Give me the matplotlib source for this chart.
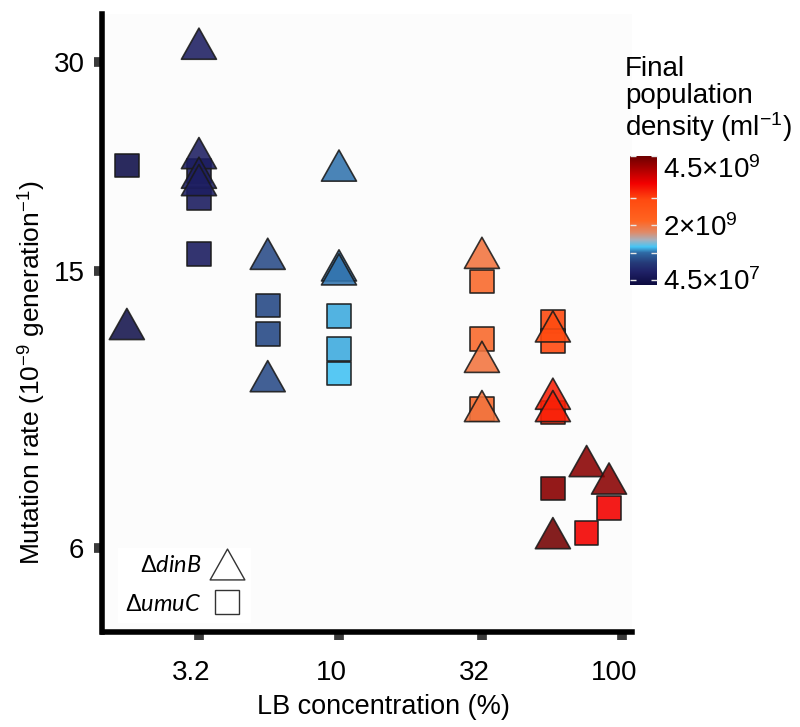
import matplotlib
matplotlib.use("Agg")
import matplotlib.pyplot as plt
import matplotlib.cm as cm
import matplotlib.transforms as mtransforms
from matplotlib.colors import LinearSegmentedColormap, Normalize
from matplotlib.lines import Line2D
from matplotlib.path import Path
from matplotlib.ticker import FixedLocator, NullLocator

plt.rcParams.update({
    "font.family": "Liberation Sans",
    "mathtext.fontset": "custom",
    "mathtext.rm": "Liberation Sans",
    "mathtext.it": "Lato:italic",
})

# dinB (triangles)
dinB_lb = [1.78, 3.2, 3.2, 3.2, 3.2, 5.6, 5.6, 10, 10, 10, 32, 32, 32,
           57, 57, 57, 57, 75, 90]
dinB_rate = [12.6, 31.9, 22.2, 20.8, 20.3, 15.9, 10.6, 21.3, 15.3, 15.1, 15.95, 11.3, 9.6,
             12.5, 10.0, 9.6, 6.3, 8.0, 7.55]
dinB_density = [3e7, 2.5e8, 2.5e8, 2.5e8, 2.5e8, 7.7e8, 7.7e8, 1.04e9, 1.04e9, 1.04e9, 2.0e9, 2.0e9, 2.0e9,
                2.9e9, 3.25e9, 3.25e9, 4.45e9, 4.3e9, 4.3e9]

# umuC (squares)
umuC_lb = [1.78, 3.2, 3.2, 3.2, 5.6, 5.6, 10, 10, 10, 32, 32, 32,
           57, 57, 57, 57, 75, 90]
umuC_rate = [21.3, 20.9, 19.1, 15.9, 13.4, 12.2, 12.95, 11.6, 10.7, 14.5, 12.0, 9.5,
             12.7, 11.9, 9.4, 7.3, 6.3, 6.85]
umuC_density = [3e7, 2.5e8, 2.5e8, 2.5e8, 7.7e8, 7.7e8, 1.17e9, 1.17e9, 1.22e9, 2.1e9, 2.1e9, 2.1e9,
                2.87e9, 2.87e9, 3.2e9, 4.3e9, 3.5e9, 3.5e9]

x_ticks = [3.2, 10, 32, 100]
x_ticklabels = ["3.2", "10", "32", "100"]
y_ticks = [6, 15, 30]
y_ticklabels = ["6", "15", "30"]
cb_ticks = [4.5e7, 1e9, 2e9, 3e9, 4.5e9]
cb_ticklabels = ["4.5×10$^{\\mathregular{7}}$", "", "2×10$^{\\mathregular{9}}$", "", "4.5×10$^{\\mathregular{9}}$"]

cmap = LinearSegmentedColormap.from_list("dens", [
    (0.0, "#0d0b40"), (0.1, "#1f2166"), (0.17, "#253a78"), (0.25, "#2f6aa5"), (0.295, "#45c5f5"),
    (0.35, "#a8b0bc"), (0.41, "#e08a68"), (0.5, "#ff6420"), (0.66, "#ff4a10"),
    (0.79, "#f20000"), (1.0, "#6e0000")])
norm = Normalize(vmin=-1.5e8, vmax=4.5e9)

tri = Path([(0, 1), (-1.125, -1), (1.125, -1), (0, 1)], closed=True)

fig = plt.figure(figsize=(8, 7.27), dpi=100)
ax = fig.add_axes([102.5 / 800, 1 - 632 / 727, (632 - 102.5) / 800, (632 - 14) / 727])
ax.set_facecolor("#fcfcfc")

ax.scatter(umuC_lb, umuC_rate, c=umuC_density, cmap=cmap, norm=norm, marker="s", s=289,
           edgecolors="#1a1a1a", linewidths=1.2, alpha=0.9, zorder=3)
ax.scatter(dinB_lb, dinB_rate, c=dinB_density, cmap=cmap, norm=norm, marker=tri, s=635,
           edgecolors="#1a1a1a", linewidths=1.2, alpha=0.88, zorder=3)

ax.set_xscale("log")
ax.set_yscale("log")
ax.set_xlim(1.46, 108.5)
ax.set_ylim(4.54, 35.2)
ax.xaxis.set_major_locator(FixedLocator(x_ticks))
ax.yaxis.set_major_locator(FixedLocator(y_ticks))
ax.xaxis.set_minor_locator(NullLocator())
ax.yaxis.set_minor_locator(NullLocator())
ax.set_xticklabels(x_ticklabels)
ax.set_yticklabels(y_ticklabels)
ax.tick_params(direction="out", length=6, width=7, color="#3a3a3a", labelsize=20)
ax.tick_params(axis="x", pad=14)
ax.tick_params(axis="y", pad=7)
shift = mtransforms.ScaledTranslation(-8 / 100, 0, fig.dpi_scale_trans)
for lbl in ax.get_xticklabels():
    lbl.set_transform(lbl.get_transform() + shift)

for side in ["top", "right"]:
    ax.spines[side].set_visible(False)
for side in ["left", "bottom"]:
    ax.spines[side].set_linewidth(4)
    ax.spines[side].set_color("black")

ax.set_xlabel("LB concentration (%)", fontsize=19.5)
ax.set_ylabel("Mutation rate (10$^{\\mathregular{-9}}$ generation$^{\\mathregular{-1}}$)", fontsize=19)
ax.xaxis.set_label_coords(0.53, -0.1, transform=ax.transAxes)
ax.yaxis.set_label_coords(-0.105, 0.42)

handles = [
    Line2D([], [], marker=tri, markersize=25, markerfacecolor="white", markeredgecolor="#333333",
           markeredgewidth=1, linestyle="none"),
    Line2D([], [], marker="s", markersize=17, markerfacecolor="white", markeredgecolor="#333333",
           markeredgewidth=1, linestyle="none"),
]
leg = ax.legend(handles, ["Δ$\\mathit{dinB}$", "Δ$\\mathit{umuC}$"], loc="lower left",
                bbox_to_anchor=(0.03, 0.015), borderaxespad=0, markerfirst=False, fontsize=17,
                frameon=True, facecolor="white", edgecolor="none", fancybox=False, framealpha=1,
                labelspacing=0.7, handletextpad=0.3, borderpad=0.3, handlelength=1.5)

# colour bar
cax = fig.add_axes([630 / 800, 1 - 285 / 727, 27 / 800, 129 / 727])
sm = cm.ScalarMappable(norm=norm, cmap=cmap)
cb = fig.colorbar(sm, cax=cax)
cb.outline.set_visible(False)
cb.set_ticks(cb_ticks)
cb.set_ticklabels(cb_ticklabels)
cax.tick_params(axis="y", direction="in", length=4, width=1, color="#e8e8e8",
                left=True, right=True, labelsize=20, pad=4)
cax.get_yticklabels()[-1].set_va("top")

fig.text(625 / 800, 1 - 56 / 727, "Final\npopulation\ndensity (ml$^{\\mathregular{-1}}$)",
         ha="left", va="top", fontsize=20, linespacing=1.05)

fig.savefig("out.png", dpi=100)
